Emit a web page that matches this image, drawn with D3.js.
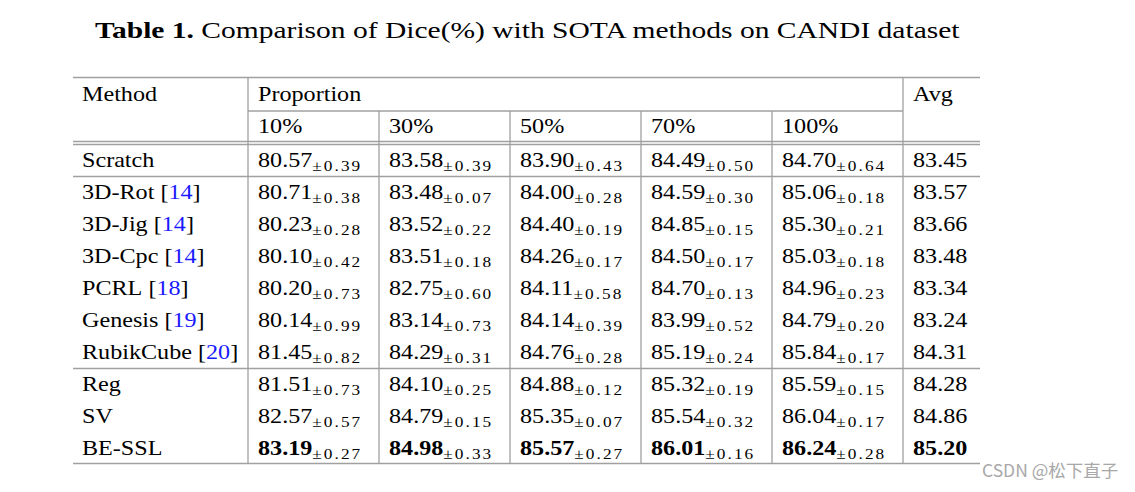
<!DOCTYPE html>
<html><head><meta charset="utf-8">
<script src="https://cdn.jsdelivr.net/npm/d3@7"></script>
<style>
html,body{margin:0;padding:0;background:#fff;}
svg{display:block;}
</style></head>
<body>
<svg id="c" width="1135" height="492"></svg>
<script>
const methods = ["Scratch","3D-Rot","3D-Jig","3D-Cpc","PCRL","Genesis","RubikCube","Reg","SV","BE-SSL"];
const refs = ["", "14","14","14","18","19","20","","",""];
const proportions = ["10%","30%","50%","70%","100%"];
const means = [
  ["80.57","83.58","83.90","84.49","84.70"],
  ["80.71","83.48","84.00","84.59","85.06"],
  ["80.23","83.52","84.40","84.85","85.30"],
  ["80.10","83.51","84.26","84.50","85.03"],
  ["80.20","82.75","84.11","84.70","84.96"],
  ["80.14","83.14","84.14","83.99","84.79"],
  ["81.45","84.29","84.76","85.19","85.84"],
  ["81.51","84.10","84.88","85.32","85.59"],
  ["82.57","84.79","85.35","85.54","86.04"],
  ["83.19","84.98","85.57","86.01","86.24"]
];
const stds = [
  ["0.39","0.39","0.43","0.50","0.64"],
  ["0.38","0.07","0.28","0.30","0.18"],
  ["0.28","0.22","0.19","0.15","0.21"],
  ["0.42","0.18","0.17","0.17","0.18"],
  ["0.73","0.60","0.58","0.13","0.23"],
  ["0.99","0.73","0.39","0.52","0.20"],
  ["0.82","0.31","0.28","0.24","0.17"],
  ["0.73","0.25","0.12","0.19","0.15"],
  ["0.57","0.15","0.07","0.32","0.17"],
  ["0.27","0.33","0.27","0.16","0.28"]
];
const avgs = ["83.45","83.57","83.66","83.48","83.34","83.24","84.31","84.28","84.86","85.20"];
const boldRow = "BE-SSL";

const svg = d3.select("#c");
const FONT = "'Liberation Serif', 'DejaVu Serif', serif";
const lineColor = "#a0a0a0";
const SX = 1.15;

// column edges
const colKeys = ["Method", ...proportions, "Avg"];
const colEdges = [73, 248, 379, 510, 641, 772, 903, 980];
const xLeft = d3.scaleOrdinal().domain(colKeys).range(colEdges.slice(0, 7));
const pad = 10;
// baselines: header rows -2,-1 ; data rows 0..9
const yRow = d3.scaleLinear().domain([0, 9]).range([167, 455]);
const yHead = d3.scaleOrdinal().domain([-2, -1]).range([101, 133]);

// title
const title = svg.append("text")
  .style("font-family", FONT).style("font-size", "24px").attr("fill", "#000");
title.append("tspan").attr("font-weight", "bold").text("Table 1.");
title.append("tspan").text(" Comparison of Dice(%) with SOTA methods on CANDI dataset");
const tw = title.node().getComputedTextLength();
const tsx = 865 / tw;
title.attr("transform", `translate(${527.5 - 865 / 2},38) scale(${tsx},1)`);

// lines
function hline(y, x1, x2, w) {
  svg.append("line").attr("x1", x1).attr("x2", x2).attr("y1", y).attr("y2", y)
    .attr("stroke", lineColor).attr("stroke-width", w || 1.3);
}
function vline(x, y1, y2) {
  svg.append("line").attr("x1", x).attr("x2", x).attr("y1", y1).attr("y2", y2)
    .attr("stroke", lineColor).attr("stroke-width", 1.3);
}
const L = colEdges[0], R = colEdges[7];
hline(77.5, L, R, 1.5);
hline(111, xLeft("10%"), xLeft("Avg"));
hline(141.5, L, R, 1.3);
hline(144.5, L, R, 1.3);
hline(176.5, L, R);
hline(368.5, L, R);
hline(463.5, L, R, 1.5);
// verticals
vline(xLeft("10%"), 77.5, 463.5);
vline(xLeft("Avg"), 77.5, 463.5);
proportions.slice(1).forEach(p => vline(xLeft(p), 111, 463.5));

const txt = (x, y) => svg.append("text")
  .attr("transform", `translate(${x},${y}) scale(${SX},1)`)
  .style("font-family", FONT).style("font-size", "21px").attr("fill", "#000");

// headers
txt(xLeft("Method") + 9, yHead(-2)).text("Method");
txt(xLeft("10%") + pad, yHead(-2)).text("Proportion");
txt(xLeft("Avg") + pad, yHead(-2)).text("Avg");
proportions.forEach(p => txt(xLeft(p) + pad, yHead(-1)).text(p));

// rows
methods.forEach((m, i) => {
  const y = yRow(i);
  const t = txt(xLeft("Method") + 9, y);
  t.append("tspan").text(m);
  if (refs[i]) {
    t.append("tspan").text(" [");
    t.append("tspan").attr("fill", "#1a1aff").text(refs[i]);
    t.append("tspan").text("]");
  }
  const bold = m === boldRow;
  proportions.forEach((p, j) => {
    const c = txt(xLeft(p) + pad, y);
    c.append("tspan").attr("font-weight", bold ? "bold" : null).text(means[i][j]);
    c.append("tspan").attr("dy", 4).style("font-size", "15px").style("letter-spacing", "1.8px").text("\u00b1" + stds[i][j]);
  });
  txt(xLeft("Avg") + pad, y).attr("font-weight", bold ? "bold" : null).text(avgs[i]);
});

// watermark
svg.append("text").attr("x", 982).attr("y", 477)
  .style("font-family", "'Noto Sans CJK SC', 'Noto Sans', sans-serif")
  .style("font-size", "17.5px").attr("fill", "#a8a8a8")
  .text("CSDN @松下直子");
</script>
</body></html>
